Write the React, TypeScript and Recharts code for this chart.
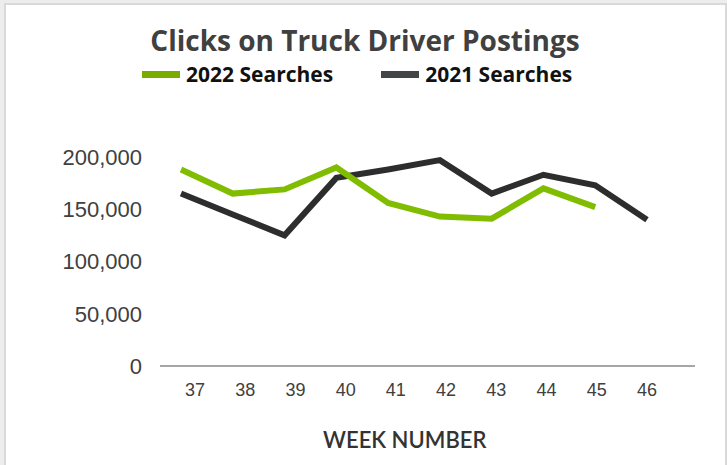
import React from 'react';
import { LineChart, Line, XAxis, YAxis } from 'recharts';

const weeks = ['37', '38', '39', '40', '41', '42', '43', '44', '45', '46'];
const searches2022 = [188000, 165000, 169000, 190000, 156000, 143000, 141000, 170000, 152000, null];
const searches2021 = [165000, 145000, 125000, 180000, 188000, 197000, 165000, 183000, 173000, 140000];
const yTicks = [0, 50000, 100000, 150000, 200000];

const series = [
  { key: 's2022', name: '2022 Searches', color: '#80bc00', legendColor: '#78ad00' },
  { key: 's2021', name: '2021 Searches', color: '#2d2d2d', legendColor: '#414646' },
];

const data = weeks.map((w, i) => ({ week: w, s2022: searches2022[i], s2021: searches2021[i] }));

export default function App() {
  return (
    <div style={{ position: 'absolute', left: 0, top: 0, width: 727, height: 465, background: '#ededed', overflow: 'hidden' }}>
      <div style={{ position: 'absolute', left: 4, top: 3, width: 719, height: 470, background: '#fff', border: '2px solid #d9d9d9' }} />
      <div style={{ position: 'absolute', left: 0, width: 730, top: 26, textAlign: 'center', fontFamily: '"Open Sans", sans-serif', fontWeight: 700, fontSize: 28, lineHeight: 1, color: '#404040' }}>
        Clicks on Truck Driver Postings
      </div>
      <div style={{ position: 'absolute', left: 142, top: 64, display: 'flex', alignItems: 'center', fontFamily: '"Open Sans", sans-serif', fontWeight: 700, fontSize: 21, lineHeight: 1, color: '#111' }}>
        {series.map((s, i) => (
          <div key={s.key} style={{ display: 'flex', alignItems: 'center', marginRight: i === 0 ? 48 : 0 }}>
            <div style={{ width: 38, height: 7, background: s.legendColor, marginRight: 6 }} />
            <span>{s.name}</span>
          </div>
        ))}
      </div>
      <div style={{ position: 'absolute', left: 323, top: 429, fontFamily: 'Lato, sans-serif', fontWeight: 600, fontSize: 22, lineHeight: 1, color: '#333' }}>
        WEEK NUMBER
      </div>
      <div style={{ position: 'absolute', left: 0, top: 0 }}>
        <LineChart width={727} height={465} data={data} margin={{ top: 157, right: 32, bottom: 69, left: 0 }}>
          <XAxis
            xAxisId="ticks"
            dataKey="week"
            type="category"
            scale="point"
            padding={{ left: 35, right: 48 }}
            height={30}
            tickLine={false}
            tickMargin={11}
            axisLine={{ stroke: '#a6a6a6', strokeWidth: 2 }}
            tick={{ fill: '#404040', fontSize: 18, fontFamily: '"Liberation Sans", Arial, sans-serif' }}
            interval={0}
          />
          <XAxis xAxisId="lines" orientation="top" height={0} dataKey="week" type="category" scale="point" padding={{ left: 21, right: 48 }} hide />
          <YAxis
            width={160}
            domain={[0, 200000]}
            ticks={yTicks}
            axisLine={false}
            tickLine={false}
            tickMargin={12}
            tickFormatter={(v: number) => v.toLocaleString('en-US')}
            tick={{ fill: '#404040', fontSize: 22, fontFamily: '"Liberation Sans", Arial, sans-serif' }}
          />
          <Line xAxisId="lines" dataKey="s2021" name="2021 Searches" stroke={series[1].color} strokeWidth={6} dot={false} activeDot={false} isAnimationActive={false} />
          <Line xAxisId="lines" dataKey="s2022" name="2022 Searches" stroke={series[0].color} strokeWidth={6} dot={false} activeDot={false} isAnimationActive={false} />
        </LineChart>
      </div>
    </div>
  );
}
